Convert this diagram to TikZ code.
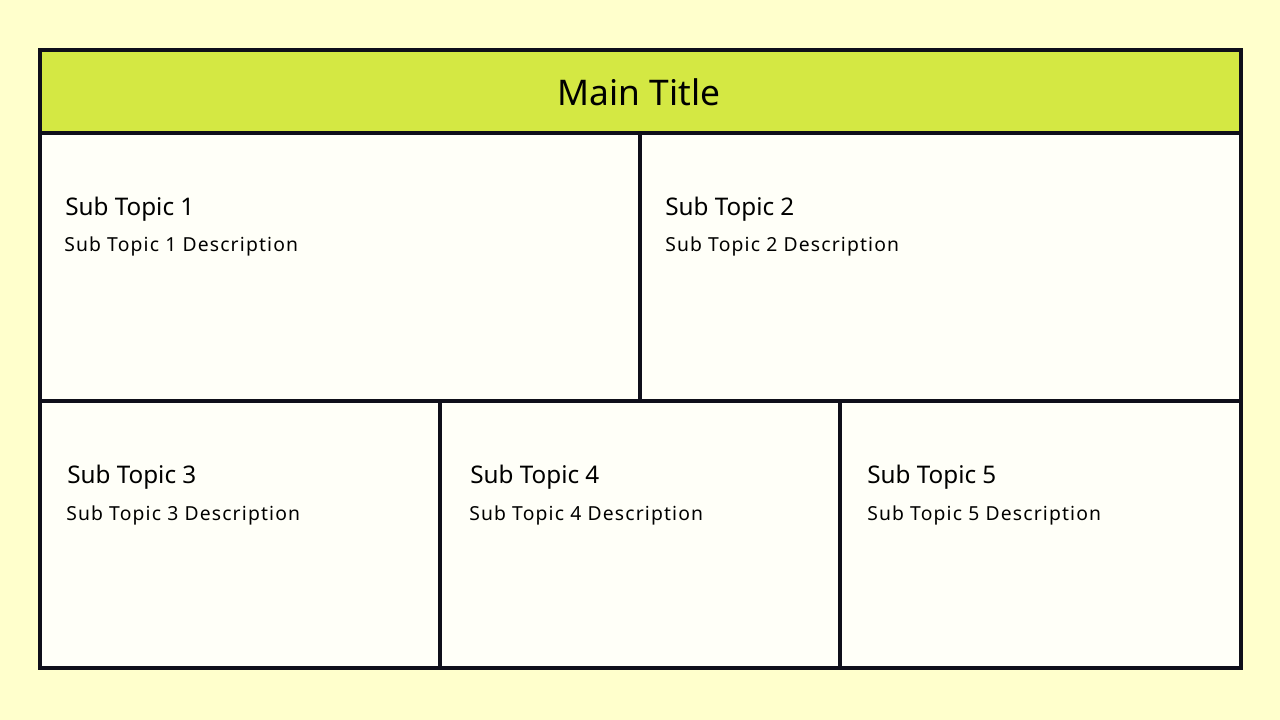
\documentclass[tikz,border=0pt]{standalone}
\usepackage{fontspec}
\setmainfont{Noto Sans}
\newfontfamily\descfont[LetterSpace=6]{Noto Sans}
\definecolor{bgc}{HTML}{FFFFCC}
\definecolor{titlec}{HTML}{D4E843}
\definecolor{cellc}{HTML}{FFFFF8}
\definecolor{linec}{HTML}{0F0F1A}
\tikzset{
  cell/.style={draw=linec, line width=2.4pt, fill=cellc},
  titlebar/.style={draw=linec, line width=2.4pt, fill=titlec},
  headtxt/.style={anchor=base west, inner sep=0pt, font=\fontsize{18.2pt}{21pt}\selectfont, text=black},
  desctxt/.style={anchor=base west, inner sep=0pt, font=\descfont\fontsize{14.5pt}{17pt}\selectfont, text=black},
  titletxt/.style={anchor=base, inner sep=0pt, font=\fontsize{26.5pt}{30pt}\selectfont, text=black}
}
\begin{document}
\begin{tikzpicture}[x=0.75pt,y=-0.75pt]
\fill[bgc] (0,0) rectangle (1280,720);
\useasboundingbox (0,0) rectangle (1280,720);
% cells
\draw[cell] (40,133) rectangle (640,401);
\draw[cell] (640,133) rectangle (1241,401);
\draw[cell] (40,401) rectangle (440,668);
\draw[cell] (440,401) rectangle (840,668);
\draw[cell] (840,401) rectangle (1241,668);
\draw[titlebar] (40,50) rectangle (1241,133);
% texts
\node[titletxt] (title) at (639,106) {Main Title};
\node[headtxt] (h1) at (65,216) {Sub Topic 1};
\node[desctxt] (d1) at (64,252) {Sub Topic 1 Description};
\node[headtxt] (h2) at (665,216) {Sub Topic 2};
\node[desctxt] (d2) at (665,252) {Sub Topic 2 Description};
\node[headtxt] (h3) at (67,483) {Sub Topic 3};
\node[desctxt] (d3) at (66,520) {Sub Topic 3 Description};
\node[headtxt] (h4) at (470,483) {Sub Topic 4};
\node[desctxt] (d4) at (469,520) {Sub Topic 4 Description};
\node[headtxt] (h5) at (867,483) {Sub Topic 5};
\node[desctxt] (d5) at (867,520) {Sub Topic 5 Description};
\end{tikzpicture}
\end{document}
